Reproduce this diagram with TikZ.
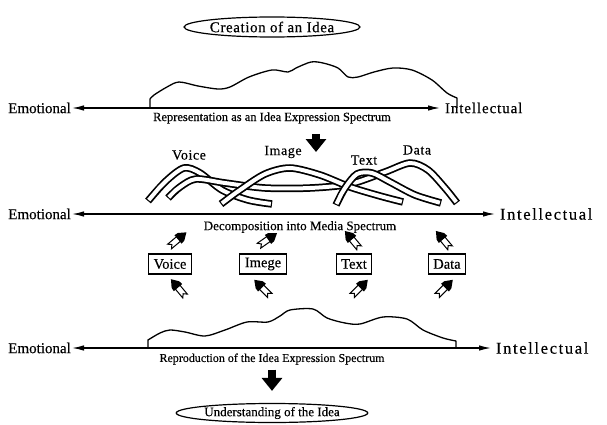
\documentclass[tikz,border=0pt]{standalone}
\usepackage{fontspec}
\setmainfont{Liberation Serif}[FakeBold=0.4]
\usetikzlibrary{shapes.geometric}
\usetikzlibrary{arrows.meta}
\usetikzlibrary{positioning}

\newcommand{\drawribbon}[1]{%
  \draw[line width=7.5pt,line cap=butt] plot[smooth] coordinates {#1};
  \draw[white,line width=4pt,line cap=butt,shorten <=1.2pt,shorten >=1.2pt] plot[smooth] coordinates {#1};}

\tikzset{
  axislbl/.style={font=\fontsize{15}{17}\selectfont, inner sep=1pt},
  intlbl/.style={font=\fontsize{16.5}{18}\selectfont\addfontfeature{LetterSpace=10}, inner xsep=1pt, inner ysep=1pt, outer xsep=4pt},
  spectxt/.style={font=\fontsize{12.5}{14}\selectfont, inner sep=1pt},
  medialbl/.style={font=\fontsize{14}{16}\selectfont\addfontfeature{LetterSpace=4}, inner sep=1pt},
  idea/.style={draw, ellipse, line width=1.2pt, minimum width=167pt, minimum height=20pt, inner sep=0pt},
  mediabox/.style={draw, line width=1.2pt, inner xsep=5pt, inner ysep=2pt, minimum height=20pt, font=\fontsize{14.5}{16}\selectfont},
  axis/.style={line width=1.3pt, {Latex[length=12pt,width=5.5pt]}-{Latex[length=12pt,width=5.5pt]}},
  hill/.style={line width=1.3pt, line join=round},
  bigarrow/.style={line width=8pt, -{Triangle[width=20pt,length=13pt]}},
  nib/.pic={
    \draw[line width=1pt, fill=white] (-11,-3) -- (1,-3) -- (1,3) -- (-11,3) -- (-8,0) -- cycle;
    \fill (0,-5.5) -- (4,-5) -- (11,0) -- (4,5) -- (0,5.5) -- cycle;
  }
}

\begin{document}
\begin{tikzpicture}[x=1pt,y=-1pt]
\useasboundingbox (0,0) rectangle (607,425);

\node[idea, font=\fontsize{15}{17}\selectfont\addfontfeature{LetterSpace=4}] (create) at (272,27) {Creation of an Idea};

\node[axislbl, anchor=east] (emo1) at (72,108) {Emotional};
\node[intlbl, anchor=west, font=\fontsize{15}{17}\selectfont\addfontfeature{LetterSpace=6}] (int1) at (440,108) {Intellectual};
\draw[axis] (emo1) -- (int1);
\draw[hill] (150,108) -- plot[smooth] coordinates {(150,99) (154,95) (167,87) (179,82) (198,86) (218,89) (230,87) (249,77) (272,70) (288,72) (296,68) (311,62) (323,63) (338,68) (348,77) (358,77) (374,72) (393,68) (412,70) (432,80) (447,93) (457,98)} -- (457,108);
\node[spectxt] (rep) at (272,118) {Representation as an Idea Expression Spectrum};

\coordinate (a1) at (316,152);
\draw[bigarrow, shorten <=9pt] (rep.south -| a1) -- (a1);

\node[medialbl] (lvoice) at (189,155) {Voice};
\node[medialbl] (limage) at (283,152) {Image};
\node[medialbl] (ltext) at (364,160) {Text};
\node[medialbl] (ldata) at (417,150) {Data};

\drawribbon{(148,201) (166,181) (184,168) (200,173) (222,190) (248,200) (272,204)}
\drawribbon{(168,198) (180,187) (196,179) (225,183) (265,188) (310,188) (350,184) (385,172) (410,163) (428,170) (445,188) (457,203)}
\drawribbon{(221,204) (240,190) (265,174) (290,168) (320,175) (350,187) (380,196) (403,202)}
\drawribbon{(336,205) (345,188) (357,174) (372,173) (390,182) (415,195) (441,203)}

\node[axislbl, anchor=east] (emo2) at (72,214) {Emotional};
\node[intlbl, anchor=west] (int2) at (495,214) {Intellectual};
\draw[axis] (emo2) -- (int2);
\node[spectxt, font=\fontsize{13}{15}\selectfont] (decomp) at (300,227) {Decomposition into Media Spectrum};

\node[mediabox] (mvoice) at (170,264) {Voice};
\node[mediabox] (mimage) at (263,264) {Imege};
\node[mediabox] (mtext) at (354,264) {Text};
\node[mediabox] (mdata) at (447,264) {Data};

\pic[rotate=40] at ([shift={(8,-14)}]mvoice.north) {nib};
\pic[rotate=35] at ([shift={(5,-14)}]mimage.north) {nib};
\pic[rotate=130] at ([shift={(-2,-14)}]mtext.north) {nib};
\pic[rotate=130] at ([shift={(-4,-14)}]mdata.north) {nib};
\pic[rotate=130] at ([shift={(8,13)}]mvoice.south) {nib};
\pic[rotate=135] at ([shift={(-1,13)}]mimage.south) {nib};
\pic[rotate=45] at ([shift={(6,13)}]mtext.south) {nib};
\pic[rotate=45] at ([shift={(-2,13)}]mdata.south) {nib};

\node[axislbl, anchor=east] (emo3) at (72,348) {Emotional};
\node[intlbl, anchor=west] (int3) at (491,348) {Intellectual};
\draw[axis] (emo3) -- (int3);
\draw[hill] (148,348) -- plot[smooth] coordinates {(148,340) (160,333) (170,330) (185,332) (205,336) (225,330) (247,322) (268,322) (280,316) (290,310) (313,309) (327,318) (345,323) (360,324) (383,317) (407,319) (423,330) (443,338) (456,341)} -- (456,348);
\node[spectxt, font=\fontsize{12}{14}\selectfont] (repro) at (272,359) {Reproduction of the Idea Expression Spectrum};

\node[idea, minimum width=165pt, minimum height=19pt, font=\fontsize{13}{15}\selectfont] (under) at (272,413) {Understanding of the Idea};
\draw[bigarrow, shorten <=4pt, shorten >=12pt] (repro.south) -- (under.north);
\end{tikzpicture}
\end{document}
